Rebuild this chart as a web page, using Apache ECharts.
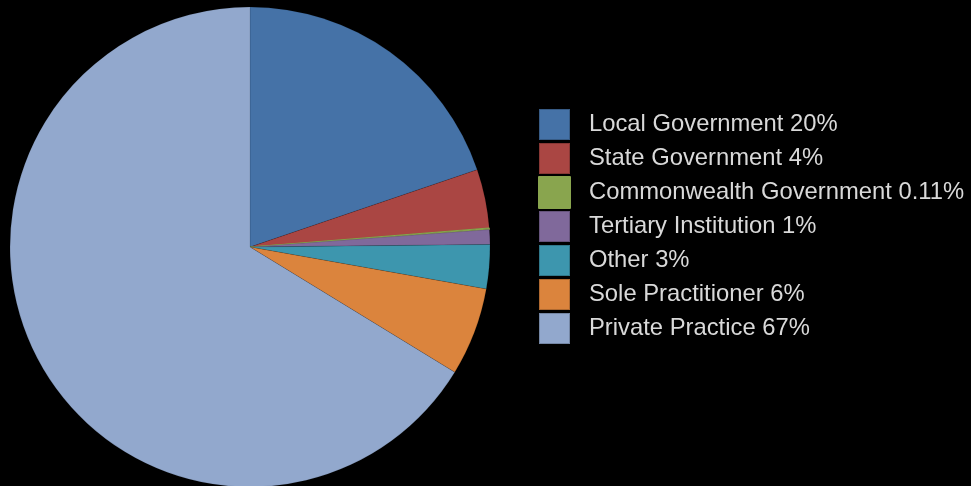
<!DOCTYPE html>
<html>
<head>
<meta charset="utf-8">
<script src="https://cdn.jsdelivr.net/npm/echarts@6/dist/echarts.min.js"></script>
<style>
  html, body { margin: 0; padding: 0; background: #000; }
  #chart { width: 971px; height: 486px; }
</style>
</head>
<body>
<div id="chart"></div>
<script>
// Employment sector shares (percent)
const categories = [
  'Local Government',
  'State Government',
  'Commonwealth Government',
  'Tertiary Institution',
  'Other',
  'Sole Practitioner',
  'Private Practice'
];
const shares = [20, 4, 0.11, 1, 3, 6, 67];
const shareLabels = ['20%', '4%', '0.11%', '1%', '3%', '6%', '67%'];
const colors = ['#4572A7', '#AA4643', '#89A54E', '#80699B', '#3D96AE', '#DB843D', '#92A8CD'];

const chart = echarts.init(document.getElementById('chart'), null, { renderer: 'canvas' });

const data = categories.map((name, i) => {
  const item = { name: name, value: shares[i], itemStyle: { color: colors[i] } };
  // very thin slice: outline it in its own colour so it stays visible
  if (shares[i] < 0.5) {
    item.itemStyle.borderColor = colors[i];
    item.itemStyle.borderWidth = 1;
  }
  return item;
});

chart.setOption({
  backgroundColor: '#000000',
  animation: false,
  legend: {
    orient: 'vertical',
    left: 538,
    top: 108,
    padding: 0,
    itemWidth: 31,
    itemHeight: 31,
    itemGap: 1,
    icon: 'rect',
    selectedMode: false,
    data: categories,
    formatter: function (name) {
      return name + ' ' + shareLabels[categories.indexOf(name)];
    },
    textStyle: {
      color: '#d9d9d9',
      fontFamily: 'Liberation Sans, Arial, sans-serif',
      fontSize: 23.8,
      lineHeight: 31,
      padding: [0, 0, 0, 14]
    }
  },
  series: [{
    type: 'pie',
    center: [250, 247],
    radius: 240,
    startAngle: 90,
    clockwise: true,
    minAngle: 0,
    avoidLabelOverlap: false,
    label: { show: false },
    labelLine: { show: false },
    emphasis: { disabled: true },
    itemStyle: {
      borderColor: 'rgba(0,0,0,0.2)',
      borderWidth: 0.5
    },
    data: data
  }]
});
</script>
</body>
</html>
